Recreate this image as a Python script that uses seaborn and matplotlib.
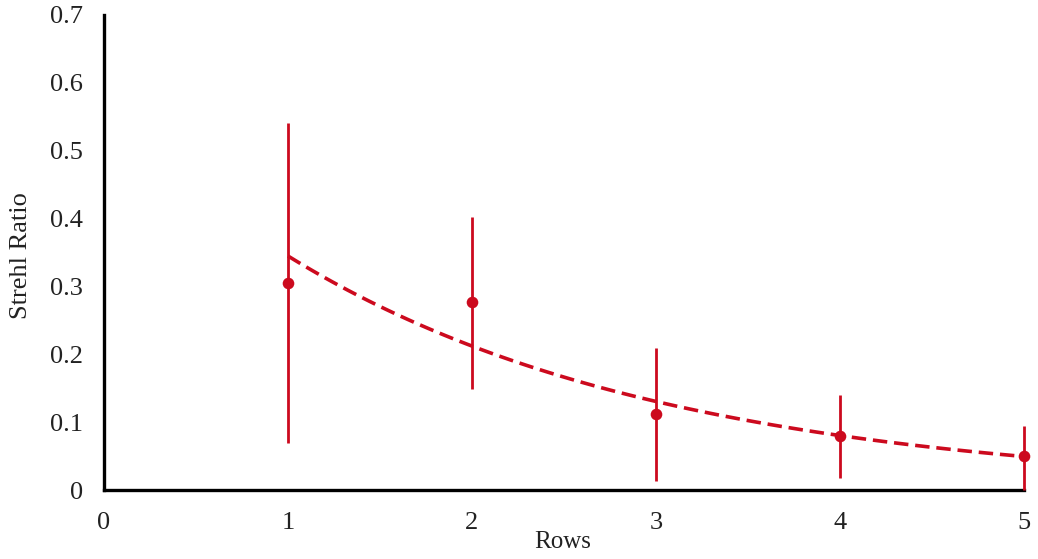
import numpy as np
import pandas as pd
import matplotlib
matplotlib.use("Agg")
import matplotlib.pyplot as plt
import seaborn as sns

# Data
rows = [1, 2, 3, 4, 5]
strehl = [0.305, 0.277, 0.112, 0.080, 0.050]
err_upper = [0.236, 0.125, 0.097, 0.060, 0.044]
err_lower = [0.236, 0.128, 0.099, 0.062, 0.050]
x_ticks = [0, 1, 2, 3, 4, 5]
x_ticklabels = ["0", "1", "2", "3", "4", "5"]
y_ticks = [0, 0.1, 0.2, 0.3, 0.4, 0.5, 0.6, 0.7]
y_ticklabels = ["0", "0.1", "0.2", "0.3", "0.4", "0.5", "0.6", "0.7"]

RED = "#CC0A1E"
TXT = "#222222"

sns.set_theme(style="white")
plt.rcParams["font.family"] = ["Liberation Serif", "DejaVu Serif"]

df = pd.DataFrame({"Rows": rows, "Strehl": strehl})

# Exponential trend line fitted to the points (as a spreadsheet trendline)
b, ln_a = np.polyfit(np.array(rows, float), np.log(np.array(strehl)), 1)
xt = np.linspace(min(rows), max(rows), 100)
trend = pd.DataFrame({"Rows": xt, "Trend": np.exp(ln_a + b * xt)})

fig = plt.figure(figsize=(10.38, 5.59), dpi=100)
ax = fig.add_axes([0.1002, 0.1234, 0.8863, 0.8498])

eb = ax.errorbar(rows, strehl, yerr=[err_lower, err_upper], fmt="none",
                 ecolor=RED, elinewidth=2.0, capsize=0, zorder=2)
for coll in eb[2]:
    coll.set_clip_on(False)
sns.lineplot(data=trend, x="Rows", y="Trend", ax=ax, color=RED,
             linewidth=2.6, linestyle=(0, (4.0, 1.9)), zorder=3)
sns.scatterplot(data=df, x="Rows", y="Strehl", ax=ax, color=RED, s=70,
                edgecolor=RED, linewidth=0, zorder=4, clip_on=False)

ax.set_xlim(0, 5)
ax.set_ylim(0, 0.7)
ax.set_xticks(x_ticks)
ax.set_xticklabels(x_ticklabels)
ax.set_yticks(y_ticks)
ax.set_yticklabels(y_ticklabels)
ax.tick_params(axis="both", length=0, labelsize=19, colors=TXT)
ax.tick_params(axis="x", pad=16)
ax.tick_params(axis="y", pad=15)

for s in ["top", "right"]:
    ax.spines[s].set_visible(False)
for s in ["left", "bottom"]:
    ax.spines[s].set_color("black")
    ax.spines[s].set_linewidth(2.4)
    ax.spines[s].set_zorder(1)

ax.set_xlabel("Rows", fontsize=18, color=TXT)
ax.set_ylabel("Strehl Ratio", fontsize=19, color=TXT)
ax.xaxis.set_label_coords(0.499, -0.086)
ax.yaxis.set_label_coords(-0.078, 0.493)
ax.grid(False)

fig.savefig("out.png", dpi=100)
